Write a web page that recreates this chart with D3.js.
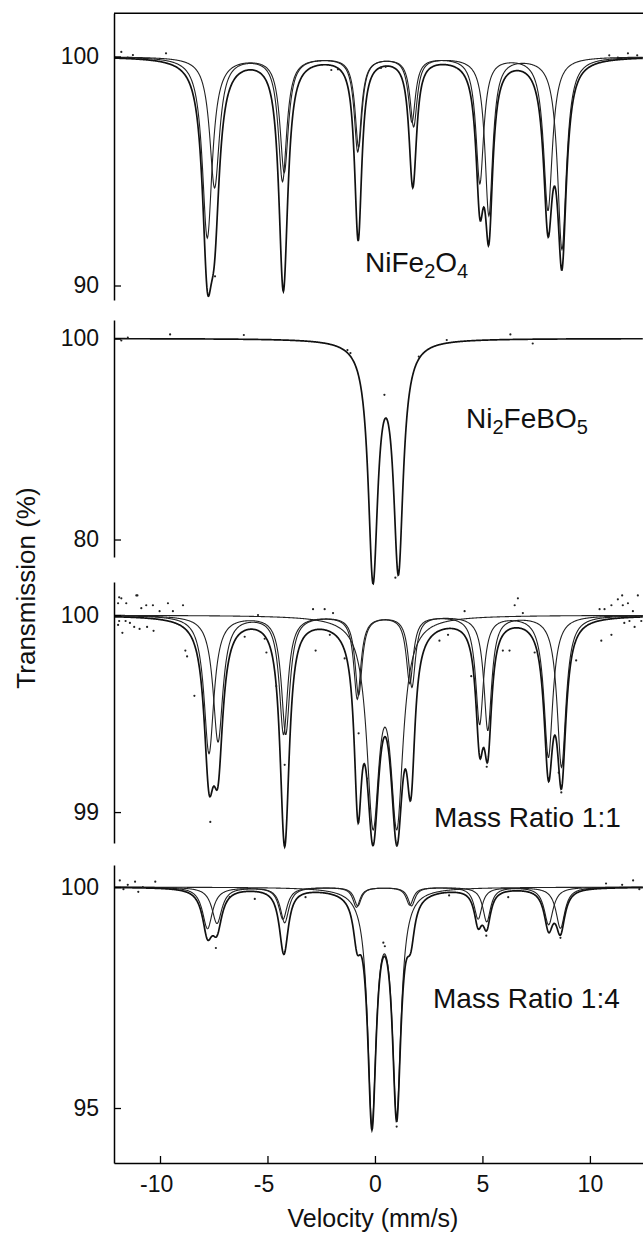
<!DOCTYPE html>
<html>
<head>
<meta charset="utf-8">
<script src="https://cdn.jsdelivr.net/npm/d3@7"></script>
<style>
body { margin: 0; background: #fff; }
svg { display: block; font-family: "Liberation Sans", Arial, sans-serif; }
</style>
</head>
<body>
<svg id="chart" width="643" height="1237"></svg>
<script>
// Lorentzian line parameters: velocity (mm/s), depth (% absorption)
const lineWidths = [0.28, 0.24, 0.2, 0.2, 0.22, 0.25]; // half widths, lines 1..6

const ferriteBPos = [-7.80, -4.22, -0.80, 1.80, 5.30, 8.70];
const ferriteBDepth = [7.9, 5.0, 4.1, 3.0, 6.9, 8.4];
const ferriteAPos = [-7.46, -4.30, -0.76, 1.72, 4.88, 8.05];
const ferriteADepth = [5.7, 5.4, 3.9, 2.8, 5.5, 6.7];

const boratePos = [-0.09, 1.09];
const borateDepth = [23.3, 22.4];
const borateWidth = 0.27;

const mix11BPos = [-7.72, -4.15, -0.82, 1.72, 5.25, 8.68];
const mix11BDepth = [0.70, 0.60, 0.42, 0.36, 0.58, 0.77];
const mix11APos = [-7.30, -4.25, -0.76, 1.62, 4.87, 8.07];
const mix11ADepth = [0.64, 0.60, 0.40, 0.34, 0.55, 0.72];
const mix11DoubletPos = [-0.09, 1.02];
const mix11DoubletDepth = [1.0, 1.0];
const mix11DoubletWidth = 0.35;

const mix14BPos = [-7.79, -4.20, -0.86, 1.70, 5.20, 8.63];
const mix14BDepth = [0.94, 0.80, 0.45, 0.42, 0.78, 0.93];
const mix14APos = [-7.35, -4.28, -0.80, 1.62, 4.80, 8.08];
const mix14ADepth = [0.82, 0.72, 0.42, 0.40, 0.72, 0.85];
const mix14DoubletPos = [-0.14, 1.01];
const mix14DoubletDepth = [5.2, 5.0];
const mix14DoubletWidth = 0.24;

// stray data points [velocity, transmission]
const ferriteDots = [[-11.8, 100.2], [-11.26, 100.06], [-9.72, 100.14], [-7.44, 90.4], [-11.5, 99.95],
  [-10.9, 99.9], [-2.03, 99.41], [-1.72, 99.44], [0.28, 99.5], [0.5, 99.55], [10.9, 100.05],
  [11.3, 99.95], [11.77, 100.14], [12.2, 100.05]];
const borateDots = [[0.44, 94.4], [0.95, 76.2], [-6.1, 100.35], [-9.53, 100.4], [6.3, 100.4],
  [7.34, 99.5], [3.34, 99.85], [-1.14, 98.55], [-1.28, 98.85], [2.04, 98.2], [-11.8, 99.8],
  [-11.5, 100.1]];
const mix11Dots = [[-11.95, 100.06], [-11.8, 100.085], [-11.57, 100.06], [-11.1, 100.10], [-10.87, 100.035],
  [-10.64, 100.05], [-10.33, 100.05], [-10.02, 100.02], [-9.63, 100.06], [-9.4, 100.02], [-8.93, 100.05],
  [-11.95, 99.95], [-11.75, 99.91], [-11.4, 99.96], [-11.2, 99.94], [-10.95, 99.93], [-10.6, 99.94],
  [-10.3, 99.92], [-11.6, 99.97], [-11.9, 99.97], [-11.9, 100.09], [-11.05, 100.1], [-8.82, 99.82],
  [-8.74, 99.79], [-8.4, 99.59], [-7.66, 98.95], [-6.06, 99.89], [-5.05, 99.81], [-5.44, 100.0],
  [-5.13, 99.88], [-4.59, 99.64], [-4.2, 99.24], [-2.88, 100.03], [-2.34, 100.03], [-1.95, 100.01],
  [-2.76, 99.82], [-2.1, 99.9], [-1.41, 99.78], [-0.76, 99.4], [-0.37, 99.17], [1.02, 98.83],
  [3.0, 99.87], [3.4, 99.9], [4.17, 100.02], [4.48, 99.69], [5.2, 99.23], [5.95, 99.82], [6.26, 99.82],
  [6.5, 100.05], [6.65, 100.085], [6.88, 100.01], [7.43, 99.81], [8.55, 99.2], [8.67, 99.1],
  [9.36, 99.77], [10.45, 100.03], [10.53, 99.87], [10.68, 100.03], [10.9, 99.99], [11.0, 99.9],
  [11.0, 100.05], [11.3, 100.08], [11.5, 100.1], [11.53, 100.05], [11.6, 99.96], [11.77, 100.06],
  [11.84, 99.97], [12.0, 100.02], [12.08, 99.94], [12.23, 100.1], [12.39, 99.97]];
const mix14Dots = [[-11.87, 100.15], [-11.16, 100.12], [-11.01, 99.89], [-10.22, 100.12], [-11.5, 100.05],
  [-11.7, 99.95], [-10.8, 100.0], [-7.4, 98.62], [-6.76, 99.77], [-5.59, 99.73], [-3.23, 99.77],
  [0.39, 98.74], [0.46, 98.66], [1.01, 94.58], [3.45, 99.81], [5.18, 98.9], [6.2, 99.77], [8.63, 98.85],
  [10.75, 100.08], [11.5, 100.05], [12.01, 100.15], [12.3, 99.95]];

const velocityTicks = [-10, -5, 0, 5, 10];
const panelNames = [["NiFe", "2", "O", "4"], ["Ni", "2", "FeBO", "5"], ["Mass Ratio 1:1"], ["Mass Ratio 1:4"]];
const panelTicks = [[90, 100], [80, 100], [99, 100], [95, 100]];
const panelDomains = [[89.367, 101.886], [78.26, 101.84], [98.843, 100.168], [93.756, 100.498]];

const svg = d3.select("#chart");
const left = 114, right = 643;
const x = d3.scaleLinear().domain([-12.14, 12.47]).range([left, right]);

function sextet(pos, depth) {
  return pos.map((p, i) => ({ pos: p, depth: depth[i], w: lineWidths[i] }));
}
function doublet(pos, depth, w) {
  return pos.map((p, i) => ({ pos: p, depth: depth[i], w: w }));
}
function absorption(v, lines) {
  let s = 0;
  lines.forEach(l => { s += l.depth / (1 + Math.pow((v - l.pos) / l.w, 2)); });
  return s;
}

const panels = [
  { comps: [sextet(ferriteBPos, ferriteBDepth), sextet(ferriteAPos, ferriteADepth)], dots: ferriteDots,
    range: [300, 13.3], label: [365, 272] },
  { comps: [doublet(boratePos, borateDepth, borateWidth)], dots: borateDots,
    range: [557, 320], label: [466, 428] },
  { comps: [sextet(mix11BPos, mix11BDepth), sextet(mix11APos, mix11ADepth),
      doublet(mix11DoubletPos, mix11DoubletDepth, mix11DoubletWidth)], dots: mix11Dots,
    range: [843, 582], label: [434, 827] },
  { comps: [sextet(mix14BPos, mix14BDepth), sextet(mix14APos, mix14ADepth),
      doublet(mix14DoubletPos, mix14DoubletDepth, mix14DoubletWidth)], dots: mix14Dots,
    range: [1163, 865], label: [433, 1008] }
];

const grid = d3.range(x.domain()[0], x.domain()[1], 0.02);

panels.forEach((p, k) => {
  const y = d3.scaleLinear().domain(panelDomains[k]).range(p.range);
  const g = svg.append("g");

  const line = d3.line().x(d => x(d[0])).y(d => y(d[1]));

  // sub spectra
  if (p.comps.length > 1) {
    p.comps.forEach(c => {
      g.append("path")
        .datum(grid.map(v => [v, 100 - absorption(v, c)]))
        .attr("d", line)
        .attr("fill", "none")
        .attr("stroke", "#222")
        .attr("stroke-width", 1.1);
    });
  }
  // total fit
  const all = p.comps.flat();
  g.append("path")
    .datum(grid.map(v => [v, 100 - absorption(v, all)]))
    .attr("d", line)
    .attr("fill", "none")
    .attr("stroke", "#111")
    .attr("stroke-width", 1.7);

  g.selectAll("circle").data(p.dots).join("circle")
    .attr("cx", d => x(d[0]))
    .attr("cy", d => y(d[1]))
    .attr("r", 1.1)
    .attr("fill", "#222");

  const ax = g.append("g")
    .attr("transform", `translate(${left},0)`)
    .call(d3.axisLeft(y).tickValues(panelTicks[k]).tickSizeInner(-7).tickSizeOuter(0)
      .tickPadding(15).tickFormat(d => String(d)));
  ax.select(".domain").attr("stroke", "#000").attr("stroke-width", 1.5);
  ax.selectAll(".tick line").attr("stroke", "#000").attr("stroke-width", 1.3);
  ax.selectAll(".tick text").attr("font-size", 23).attr("fill", "#111")
    .attr("font-family", "Liberation Sans, Arial, sans-serif");

  const name = panelNames[k];
  const t = g.append("text")
    .attr("x", p.label[0]).attr("y", p.label[1])
    .attr("font-size", 28).attr("fill", "#111");
  name.forEach((s, i) => {
    const sub = name.length > 1 && i % 2 === 1;
    t.append("tspan")
      .attr("font-size", sub ? 20 : 28)
      .attr("dy", sub ? 6 : (i > 0 ? -6 : 0))
      .text(s);
  });
});

// top frame line
svg.append("line")
  .attr("x1", left).attr("x2", right).attr("y1", 13.3).attr("y2", 13.3)
  .attr("stroke", "#000").attr("stroke-width", 1.5);

// velocity axis
const xa = svg.append("g")
  .attr("transform", "translate(0,1163)")
  .call(d3.axisBottom(x).tickValues(velocityTicks).tickSizeInner(-7).tickSizeOuter(0)
    .tickPadding(13).tickFormat(d => String(d)));
xa.select(".domain").attr("stroke", "#000").attr("stroke-width", 1.5);
xa.selectAll(".tick line").attr("stroke", "#000").attr("stroke-width", 1.3);
xa.selectAll(".tick text").attr("font-size", 23).attr("fill", "#111")
  .attr("font-family", "Liberation Sans, Arial, sans-serif")
  .attr("dx", d => d < 0 ? "-0.17em" : 0);

svg.append("text")
  .attr("x", 373).attr("y", 1227)
  .attr("text-anchor", "middle")
  .attr("font-size", 25).attr("fill", "#111")
  .text("Velocity (mm/s)");

svg.append("text")
  .attr("transform", "translate(35,588) rotate(-90)")
  .attr("text-anchor", "middle")
  .attr("font-size", 26).attr("fill", "#111")
  .text("Transmission (%)");
</script>
</body>
</html>
